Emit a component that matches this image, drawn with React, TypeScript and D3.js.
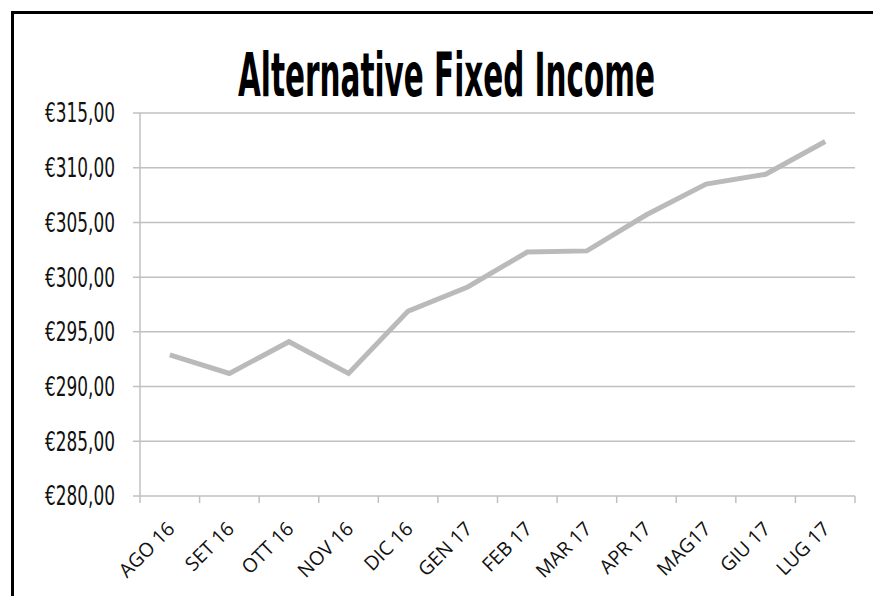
import { useEffect, useRef } from 'react'
import * as d3 from 'd3'

const MONTHS = [
  'AGO 16', 'SET 16', 'OTT 16', 'NOV 16', 'DIC 16', 'GEN 17',
  'FEB 17', 'MAR 17', 'APR 17', 'MAG17', 'GIU 17', 'LUG 17',
]
const VALUES = [292.9, 291.2, 294.1, 291.2, 296.9, 299.1, 302.3, 302.4, 305.7, 308.5, 309.4, 312.4]
const Y_TICKS = [280, 285, 290, 295, 300, 305, 310, 315]
const TITLE = 'Alternative Fixed Income'

export default function App() {
  const ref = useRef<SVGSVGElement>(null)

  useEffect(() => {
    document.body.style.margin = '0'
    const svg = d3.select(ref.current)
    svg.selectAll('*').remove()

    const width = 873
    const height = 596
    const left = 140
    const right = 855
    const top = 113
    const bottom = 496
    const grid = '#c0c0c0'
    const narrow = '"DejaVu Sans Condensed", "DejaVu Sans", sans-serif'

    svg.attr('width', width).attr('height', height).attr('viewBox', `0 0 ${width} ${height}`)

    svg.append('rect').attr('width', width).attr('height', height).attr('fill', '#fff')

    // frame: only the top and left edges fall inside the picture
    svg.append('path')
      .attr('d', `M12.5,${height + 5}V12.5H${width + 5}`)
      .attr('fill', 'none').attr('stroke', '#000').attr('stroke-width', 3)

    const x = d3.scaleBand().domain(MONTHS).range([left, right])
    const y = d3.scaleLinear().domain([280, 315]).range([bottom, top])

    const locale = d3.formatLocale({ decimal: ',', thousands: '.', grouping: [3], currency: ['€', ''] })
    const fmt = locale.format('$.2f')

    // gridlines + y ticks
    svg.append('g')
      .selectAll('line')
      .data(Y_TICKS)
      .join('line')
      .attr('x1', left - 7).attr('x2', right)
      .attr('y1', d => y(d)).attr('y2', d => y(d))
      .attr('stroke', grid).attr('stroke-width', 1.5)

    svg.append('line')
      .attr('x1', left).attr('x2', left)
      .attr('y1', top).attr('y2', bottom)
      .attr('stroke', grid).attr('stroke-width', 1.5)

    svg.append('g')
      .selectAll('text')
      .data(Y_TICKS)
      .join('text')
      .attr('x', 45)
      .attr('y', d => y(d))
      .attr('dy', '0.36em')
      .attr('textLength', 70)
      .attr('lengthAdjust', 'spacingAndGlyphs')
      .attr('font-family', narrow)
      .attr('font-size', 26)
      .attr('fill', '#111')
      .text(d => fmt(d))

    // x ticks at category boundaries
    const bounds = MONTHS.map(m => x(m)!).concat([right])
    svg.append('g')
      .selectAll('line')
      .data(bounds)
      .join('line')
      .attr('x1', d => d).attr('x2', d => d)
      .attr('y1', bottom).attr('y2', bottom + 7)
      .attr('stroke', grid).attr('stroke-width', 1.5)

    svg.append('g')
      .selectAll('text')
      .data(MONTHS)
      .join('text')
      .attr('text-anchor', 'end')
      .attr('transform', d => `translate(${x(d)! + x.bandwidth() / 2 + 6},${bottom + 34}) rotate(-45)`)
      .attr('font-family', '"Open Sans", sans-serif')
      .attr('font-size', 19.5)
      .attr('fill', '#111')
      .text(d => d)

    // series line
    const line = d3.line<number>()
      .x((_, i) => x(MONTHS[i])! + x.bandwidth() / 2)
      .y(d => y(d))

    svg.append('path')
      .datum(VALUES)
      .attr('d', line)
      .attr('fill', 'none')
      .attr('stroke', '#bababa')
      .attr('stroke-width', 5)

    // title, squeezed horizontally to the reference width
    const titleG = svg.append('g')
    const title = titleG.append('text')
      .attr('x', 0)
      .attr('y', 0)
      .attr('text-anchor', 'middle')
      .attr('font-family', narrow)
      .attr('font-weight', 'bold')
      .attr('font-size', 60)
      .attr('fill', '#000')
      .text(TITLE)
    const natural = (title.node() as SVGTextElement).getComputedTextLength() || 417
    titleG.attr('transform', `translate(446.5,96) scale(${417 / natural},1)`)
  }, [])

  return (
    <div style={{ width: 873, height: 596, overflow: 'hidden' }}>
      <svg ref={ref} style={{ display: 'block' }} />
    </div>
  )
}
